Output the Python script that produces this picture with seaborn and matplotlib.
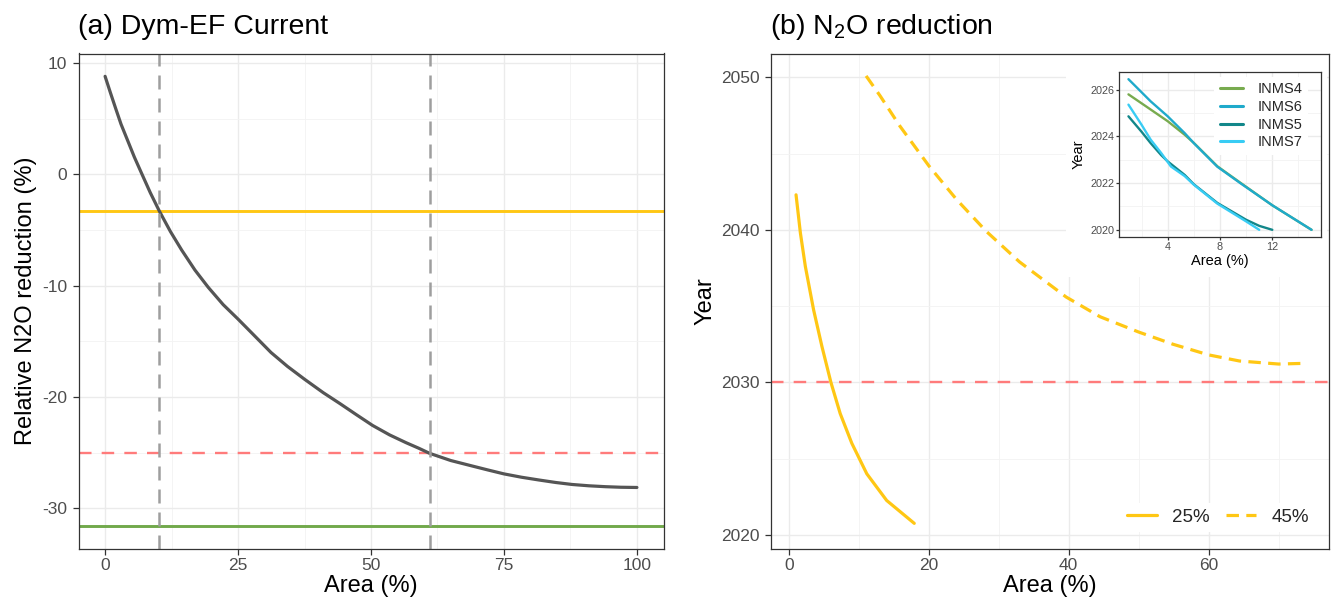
import matplotlib
matplotlib.use("Agg")
import numpy as np
import pandas as pd
import matplotlib.pyplot as plt
import seaborn as sns
from matplotlib.patches import Rectangle
from matplotlib.lines import Line2D
from matplotlib.ticker import MultipleLocator

# ---- panel (a): Dym-EF Current ----
area_a = [0, 1, 2, 3, 4.4, 5.5, 6.9, 8.5, 10.2, 12.3, 14.4, 16.9, 19.4, 22.2, 25, 28, 31.2, 34.3,
          37.5, 41, 44.2, 47.3, 50.3, 53.5, 56.6, 59, 61, 65, 69.1, 72, 75, 78.3, 81.6, 84.7,
          87.8, 91, 94.1, 97, 100]
reduction_a = [8.8, 7.33, 5.9, 4.5, 2.85, 1.55, 0.05, -1.65, -3.3, -5.15, -6.8, -8.6, -10.15, -11.7,
               -13.0, -14.45, -16.0, -17.25, -18.4, -19.6, -20.6, -21.6, -22.55, -23.4, -24.1, -24.6,
               -25.05, -25.7, -26.2, -26.55, -26.9, -27.2, -27.45, -27.67, -27.85, -27.97, -28.05,
               -28.1, -28.12]
level_yellow = -3.3
level_green = -31.6
target_a = -25
cross_areas = [10.2, 61.1]

# ---- panel (b): N2O reduction ----
area_25 = [1.05, 1.67, 2.38, 3.56, 4.75, 6.03, 7.36, 9.02, 11.16, 14.0, 17.94]
year_25 = [2042.3, 2039.8, 2037.6, 2034.75, 2032.35, 2030.0, 2027.95, 2026.0, 2024.0, 2022.25, 2020.75]
area_45 = [11.06, 13.05, 15.9, 20.03, 23.97, 28.24, 32.98, 39.63, 44.5, 50.0, 54.9, 60.0, 64.4, 70.0, 74.1]
year_45 = [2050.1, 2048.8, 2046.8, 2044.2, 2042.0, 2039.9, 2037.9, 2035.6, 2034.3, 2033.3, 2032.5,
           2031.8, 2031.4, 2031.2, 2031.25]
target_year = 2030

# ---- inset: INMS scenarios ----
scen_names = ["INMS4", "INMS6", "INMS5", "INMS7"]
inms4_x = [1.0, 2.7, 4.0, 5.3, 6.0, 7.8, 9.6, 12.0, 15.0]
inms4_y = [2025.8, 2025.15, 2024.65, 2024.07, 2023.72, 2022.72, 2022.0, 2021.05, 2020.0]
inms6_x = [1.0, 2.7, 4.0, 5.3, 6.0, 7.8, 9.6, 12.0, 15.0]
inms6_y = [2026.45, 2025.5, 2024.86, 2024.14, 2023.71, 2022.7, 2021.98, 2021.05, 2020.0]
inms5_x = [1.0, 2.0, 2.7, 3.5, 4.0, 5.3, 6.0, 7.8, 10.0, 11.0, 12.0]
inms5_y = [2024.86, 2024.2, 2023.71, 2023.2, 2022.93, 2022.35, 2021.95, 2021.15, 2020.43, 2020.17, 2020.0]
inms7_x = [1.0, 2.0, 2.7, 3.5, 4.25, 5.3, 6.0, 7.8, 10.0, 11.0]
inms7_y = [2025.36, 2024.5, 2023.86, 2023.29, 2022.71, 2022.3, 2021.93, 2021.12, 2020.36, 2020.0]
scen_colors = {"INMS4": "#78AB4F", "INMS6": "#1FAACB", "INMS5": "#12878A", "INMS7": "#38CCF4"}

gold = "#FFC714"
red = "#FF7B7B"

sns.set_theme(style="white")
plt.rcParams["font.family"] = ["Liberation Sans", "DejaVu Sans"]
plt.rcParams["mathtext.default"] = "regular"
plt.rcParams["axes.unicode_minus"] = False

W, H = 1331, 604
fig = plt.figure(figsize=(W / 100, H / 100), dpi=100)


def fig_rect(l, t, r, b):
    return [l / W, 1 - b / H, (r - l) / W, (b - t) / H]


def style_axes(ax, tick_size=12.5, tlen=4, lw=0.9):
    for s in ax.spines.values():
        s.set_color("#333333")
        s.set_linewidth(lw)
    ax.set_facecolor("white")
    ax.grid(which="major", color="#EBEBEB", lw=1.0)
    ax.grid(which="minor", color="#F3F3F3", lw=0.6)
    ax.set_axisbelow(True)
    ax.tick_params(which="major", length=tlen, width=0.9, color="#333333",
                   labelcolor="#4D4D4D", labelsize=tick_size, left=True, bottom=True)
    ax.tick_params(which="minor", length=0)


# ---------- panel a ----------
ax_a = fig.add_axes(fig_rect(78.5, 53.5, 663.5, 548.5))
df_a = pd.DataFrame({"area": area_a, "red": reduction_a})
ax_a.axhline(level_yellow, color=gold, lw=2.1, zorder=1.8)
ax_a.axhline(level_green, color="#71A94B", lw=2.1, zorder=1.8)
ax_a.axhline(target_a, color=red, lw=1.7, ls=(0, (5.3, 4.3)), zorder=1.8)
sns.lineplot(data=df_a, x="area", y="red", ax=ax_a, color="#555555", lw=2.3)
for xv in cross_areas:
    ax_a.axvline(xv, color="#9E9E9E", lw=1.8, ls=(0, (5.6, 3.6)), zorder=2.2)
ax_a.set_xlim(-5, 105)
ax_a.set_ylim(-33.6, 10.85)
ax_a.set_xticks([0, 25, 50, 75, 100])
ax_a.set_yticks([-30, -20, -10, 0, 10])
ax_a.xaxis.set_minor_locator(MultipleLocator(12.5))
ax_a.yaxis.set_minor_locator(MultipleLocator(5))
style_axes(ax_a)
ax_a.tick_params(axis="x", pad=2.5)
ax_a.tick_params(axis="y", pad=4)
ax_a.set_xlabel("Area (%)", fontsize=17, color="black", labelpad=2)
ax_a.set_ylabel("Relative N2O reduction (%)", fontsize=17, color="black", labelpad=4)
ax_a.set_title("(a) Dym-EF Current", loc="left", fontsize=20.5, pad=14, color="black")

# ---------- panel b ----------
ax_b = fig.add_axes(fig_rect(770.5, 53.5, 1329, 548.5))
df_25 = pd.DataFrame({"area": area_25, "year": year_25})
df_45 = pd.DataFrame({"area": area_45, "year": year_45})
ax_b.axhline(target_year, color=red, lw=1.7, ls=(0, (5.3, 4.3)), zorder=1.8)
sns.lineplot(data=df_25, x="area", y="year", ax=ax_b, color=gold, lw=2.3)
sns.lineplot(data=df_45, x="area", y="year", ax=ax_b, color=gold, lw=2.3, linestyle=(0, (3.9, 2.3)))
ax_b.set_xlim(-2.6, 77.2)
ax_b.set_ylim(2019.1, 2051.57)
ax_b.set_xticks([0, 20, 40, 60])
ax_b.set_yticks([2020, 2030, 2040, 2050])
ax_b.xaxis.set_minor_locator(MultipleLocator(10))
ax_b.yaxis.set_minor_locator(MultipleLocator(5))
style_axes(ax_b)
ax_b.tick_params(axis="x", pad=2.5)
ax_b.tick_params(axis="y", pad=4)
ax_b.set_xlabel("Area (%)", fontsize=17, color="black", labelpad=2)
ax_b.set_ylabel("Year", fontsize=17, color="black", labelpad=3)
ax_b.set_title("(b) N$_2$O reduction", loc="left", fontsize=20.5, pad=14, color="black")
handles_b = [Line2D([], [], color=gold, lw=2.3),
             Line2D([], [], color=gold, lw=2.3, linestyle=(0, (3.9, 2.3)))]
ax_b.legend(handles_b, ["25%", "45%"], loc="center right", bbox_to_anchor=(0.991, 0.063),
            ncol=2, fontsize=13.5, frameon=True, facecolor="white", edgecolor="none",
            framealpha=1, handlelength=1.6, handletextpad=0.8, columnspacing=0.9, borderpad=0.3)

# white area behind the inset
ax_b.add_patch(Rectangle((1066 / W, 1 - 277 / H), (1327 - 1066) / W, (277 - 55) / H,
                         transform=fig.transFigure, facecolor="white", edgecolor="none", zorder=2.3))

# ---------- inset ----------
ax_in = fig.add_axes(fig_rect(1119.3, 71.7, 1320.7, 237.3))
df_in = pd.concat([
    pd.DataFrame({"area": inms4_x, "year": inms4_y, "scenario": "INMS4"}),
    pd.DataFrame({"area": inms6_x, "year": inms6_y, "scenario": "INMS6"}),
    pd.DataFrame({"area": inms5_x, "year": inms5_y, "scenario": "INMS5"}),
    pd.DataFrame({"area": inms7_x, "year": inms7_y, "scenario": "INMS7"}),
])
sns.lineplot(data=df_in, x="area", y="year", hue="scenario", hue_order=scen_names,
             palette=scen_colors, ax=ax_in, lw=1.7, legend=False)
ax_in.set_xlim(0.3, 15.7)
ax_in.set_ylim(2019.68, 2026.77)
ax_in.set_xticks([4, 8, 12])
ax_in.set_yticks([2020, 2022, 2024, 2026])
ax_in.xaxis.set_minor_locator(MultipleLocator(2))
ax_in.yaxis.set_minor_locator(MultipleLocator(1))
style_axes(ax_in, tick_size=7.8, tlen=2.2)
ax_in.tick_params(pad=1.5)
ax_in.set_xlabel("Area (%)", fontsize=10.5, color="black", labelpad=1)
ax_in.set_ylabel("Year", fontsize=10.5, color="black", labelpad=3)
handles_in = [Line2D([], [], color=scen_colors[n], lw=2.2) for n in scen_names]
ax_in.legend(handles_in, scen_names, loc="upper right", bbox_to_anchor=(0.975, 1.015),
             fontsize=10.5, frameon=True, facecolor="white", edgecolor="none", framealpha=1,
             handlelength=1.6, handletextpad=1.0, labelspacing=0.25, borderpad=0.4)

fig.savefig("out.png", dpi=100)
